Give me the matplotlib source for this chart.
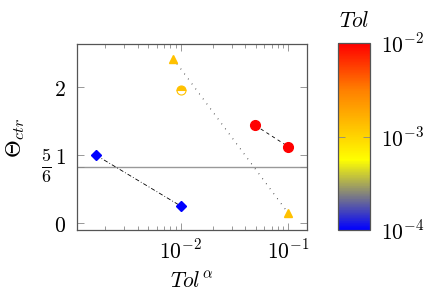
import numpy as np
import matplotlib
matplotlib.use("Agg")
import matplotlib.pyplot as plt
from matplotlib.colors import LinearSegmentedColormap, LogNorm
from matplotlib.ticker import NullFormatter

plt.rcParams['mathtext.fontset'] = 'cm'
plt.rcParams['font.family'] = ['DejaVu Serif']

# data
blue_x = [0.00164, 0.01]
blue_y = [1.0, 0.254]
tri_x = [0.00854, 0.1]
tri_y = [2.42, 0.147]
half_x = [0.01]
half_y = [1.96]
red_x = [0.0493, 0.1]
red_y = [1.44, 1.127]
tols = {"blue": 1e-4, "tri": 1.3e-3, "half": 1.3e-3, "red": 1e-2}
ref_line = 5 / 6
yticks = [0, 5 / 6, 1, 2]
ytick_labels = ["$0$", "", "$1$", "$2$"]
frac_label = r"$\frac{5}{6}$"

cmap = LinearSegmentedColormap.from_list(
    "hot_pgf", [(0, (0, 0, 1)), (3 / 8, (1, 1, 0)), (6 / 8, (1, 0.5, 0)), (1, (1, 0, 0))])
norm = LogNorm(1e-4, 1e-2)

fig = plt.figure(figsize=(4.32, 2.95), dpi=100)
ax = fig.add_axes([0.1775, 0.2203, 0.5331, 0.6305])
cax = fig.add_axes([0.783, 0.2203, 0.0734, 0.6327])

fs = 15.5
ax.axhline(ref_line, color='#999999', lw=1.0, zorder=1)

ax.plot(blue_x, blue_y, color='black', lw=0.6, dashes=(5, 2.5, 1, 2.5), zorder=2)
ax.plot(blue_x, blue_y, ls='none', marker='D', ms=5, color=cmap(norm(tols["blue"])), zorder=3)

ax.plot(tri_x, tri_y, color='black', lw=0.8, dashes=(0.6, 5), zorder=2)
ax.plot(tri_x, tri_y, ls='none', marker='^', ms=5.5, color=cmap(norm(tols["tri"])), zorder=3)

ax.plot(half_x, half_y, ls='none', marker='o', ms=6.5, fillstyle='top',
        color=cmap(norm(tols["half"])), markerfacecoloralt='white',
        markeredgewidth=0.8, zorder=3)

ax.plot(red_x, red_y, color='black', lw=0.6, dashes=(4, 4), zorder=2)
ax.plot(red_x, red_y, ls='none', marker='o', ms=7, color=cmap(norm(tols["red"])), zorder=3)

ax.set_xscale('log')
ax.set_xlim(10 ** -2.966, 10 ** -0.826)
ax.set_ylim(-0.1, 2.637)
ax.set_yticks(yticks)
ax.set_yticklabels(ytick_labels)
ax.set_xticks([1e-2, 1e-1])
ax.set_xticklabels([r"$10^{-2}$", r"$10^{-1}$"])
ax.xaxis.set_minor_formatter(NullFormatter())

ax.text(-0.129, ref_line, frac_label, transform=ax.get_yaxis_transform(),
        ha='center', va='center', fontsize=fs + 3)

for sp in ax.spines.values():
    sp.set_color('#555555')
    sp.set_linewidth(0.9)
ax.tick_params(which='both', direction='in', top=True, right=True,
               labelsize=fs, color='#888888', width=0.6)
ax.tick_params(which='major', length=5)
ax.tick_params(which='minor', length=3)
ax.tick_params(axis='x', pad=7)
ax.tick_params(axis='y', pad=8)

ax.set_xlabel(r"$Tol^{\alpha}$", fontsize=fs)
ax.xaxis.set_label_coords(0.5, -0.215)
ax.set_ylabel(r"$\Theta_{ctr}$", fontsize=fs + 1)
ax.yaxis.set_label_coords(-0.215, 0.495)

sm = matplotlib.cm.ScalarMappable(norm=norm, cmap=cmap)
cb = fig.colorbar(sm, cax=cax)
cb.set_ticks([1e-4, 1e-3, 1e-2])
cb.set_ticklabels([r"$10^{-4}$", r"$10^{-3}$", r"$10^{-2}$"])
cb.minorticks_off()
cax.tick_params(which='both', direction='in', left=True, right=True, length=5,
                color='#888888', width=0.6, labelsize=fs, pad=8)
cb.outline.set_edgecolor('#555555')
cb.outline.set_linewidth(0.9)
cax.set_title(r"$Tol$", fontsize=fs, pad=12)

fig.savefig("out.png", dpi=100)
